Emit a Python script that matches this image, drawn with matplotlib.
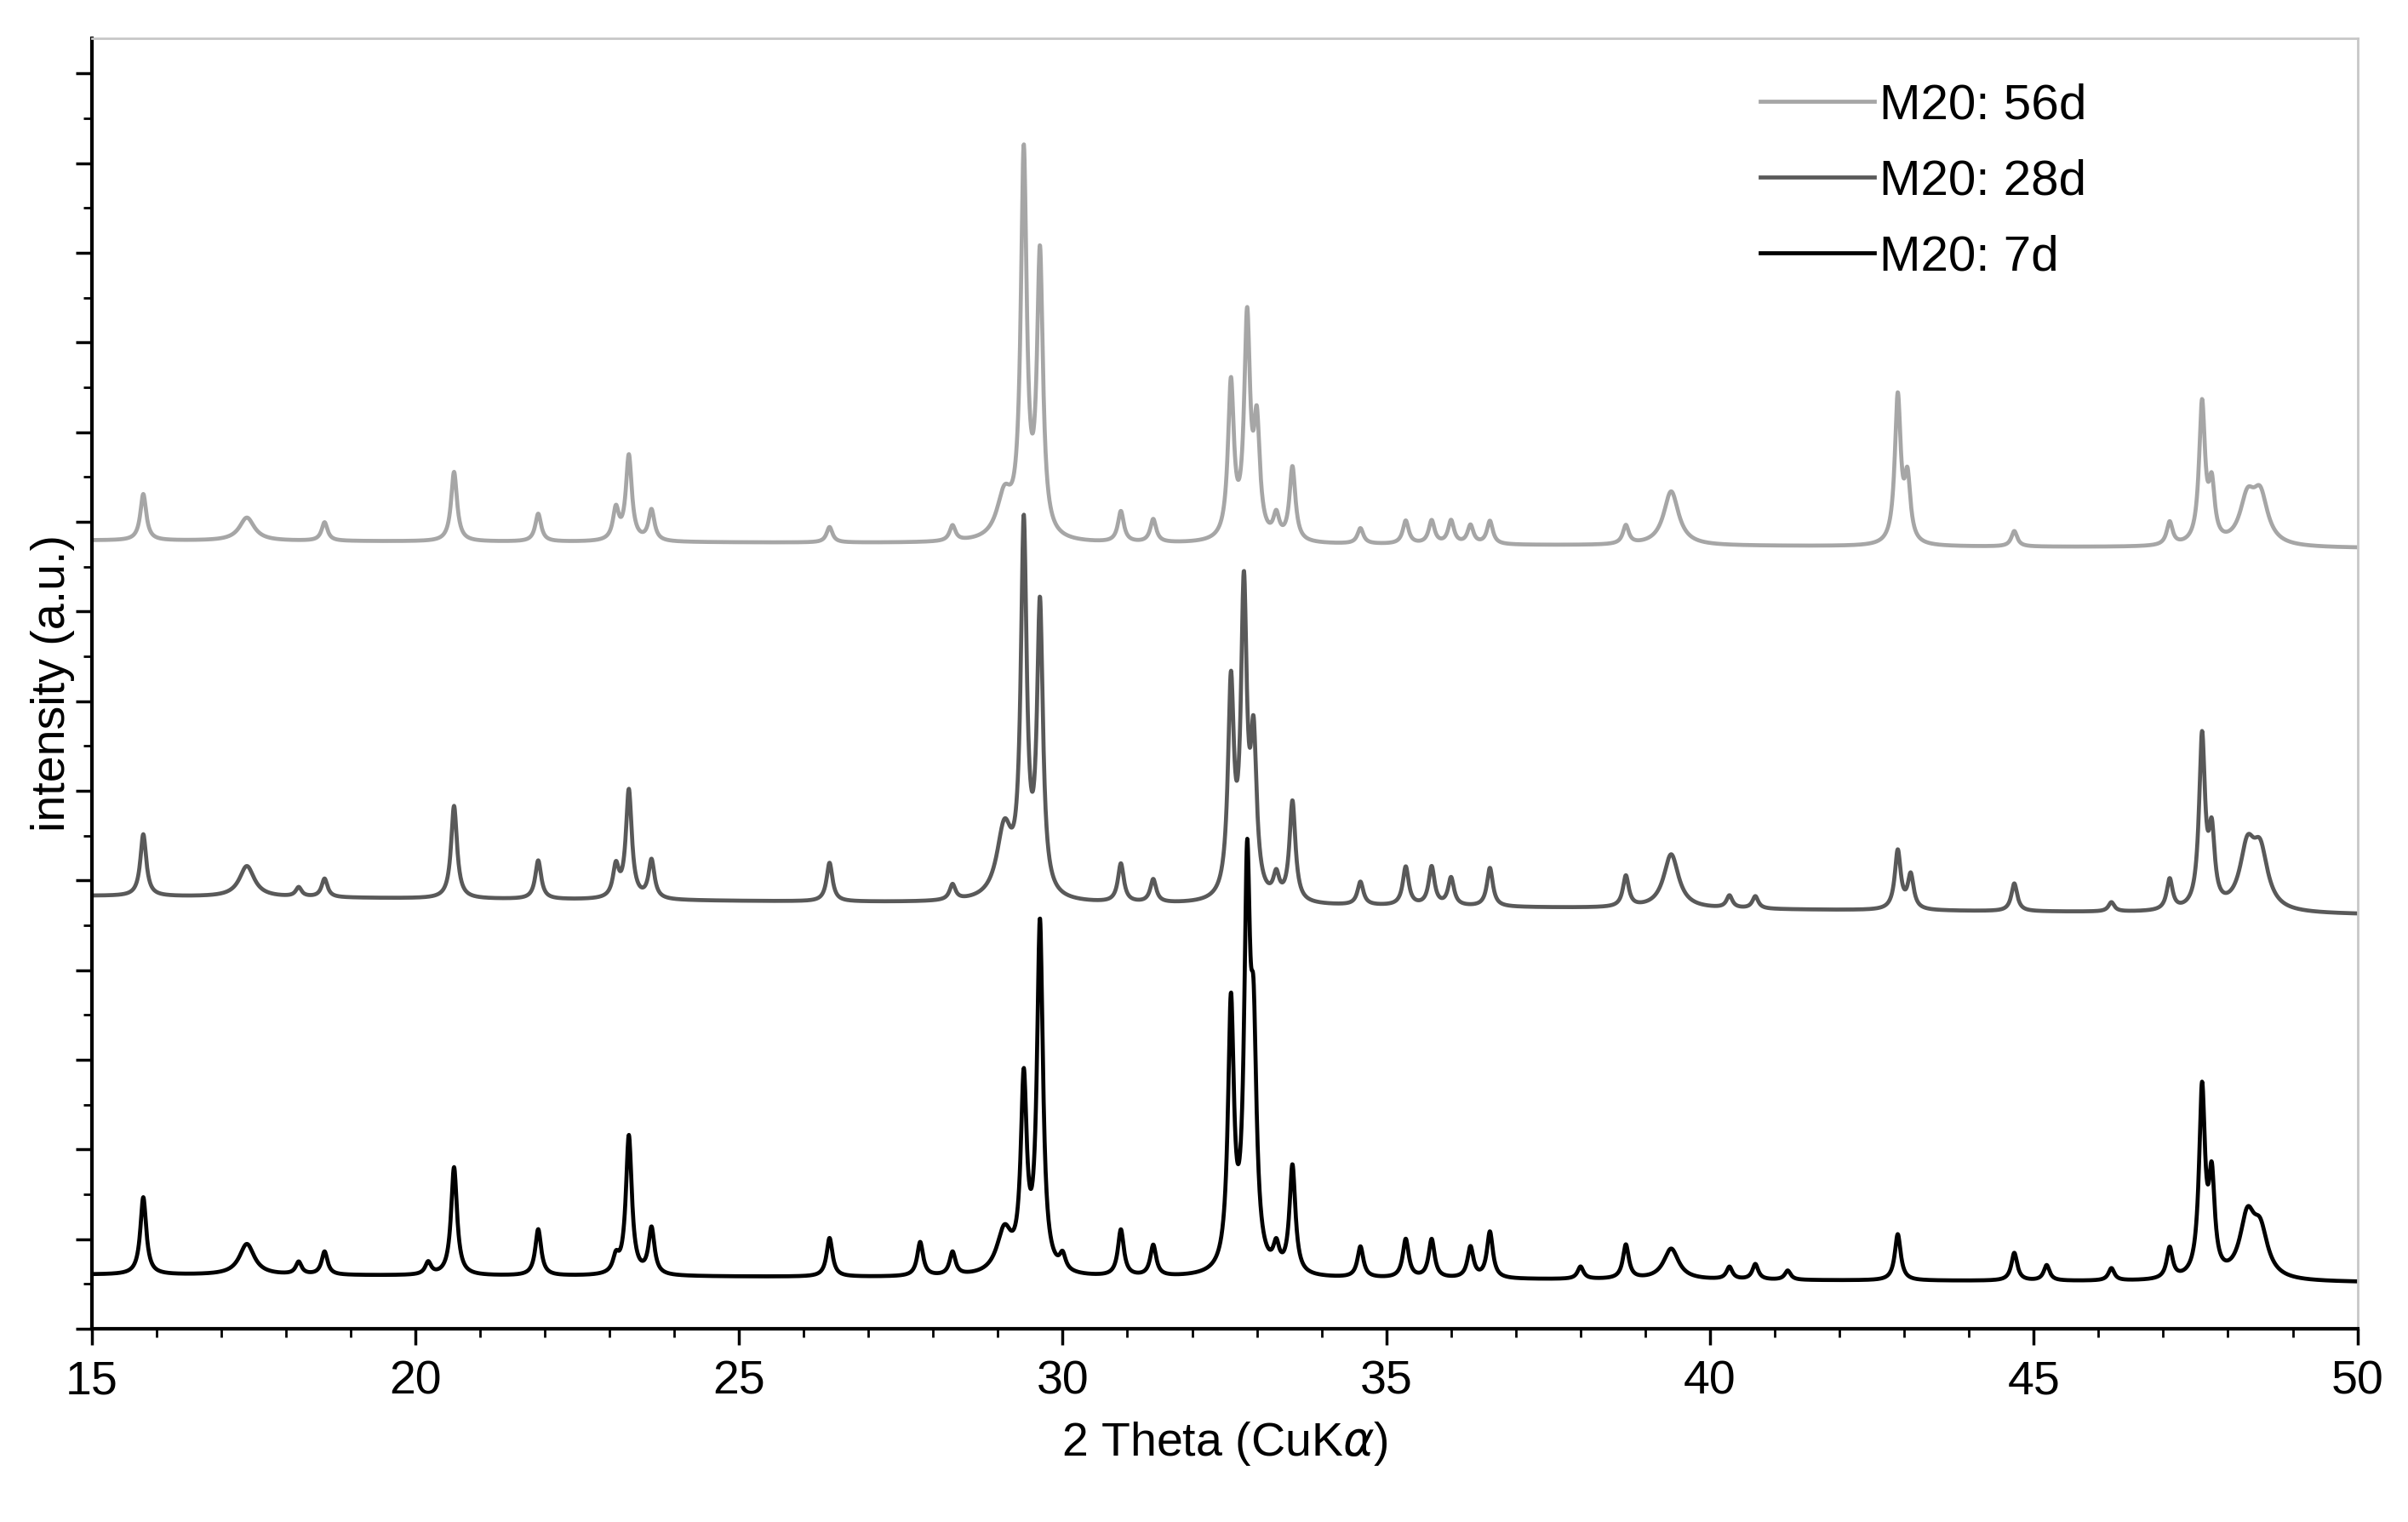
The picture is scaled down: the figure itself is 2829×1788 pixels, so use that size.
import numpy as np
import matplotlib
matplotlib.use('Agg')
import matplotlib.pyplot as plt

plt.rcParams['font.family'] = ['Liberation Sans', 'DejaVu Sans']

# peak lists: position (deg), height (a.u. above baseline)
pos_7d = [15.8, 17.4, 18.2, 18.6, 20.2, 20.6, 21.9, 23.1, 23.3, 23.65, 26.4, 27.8, 28.3, 29.1, 29.4,
          29.65, 30.0, 30.9, 31.4, 32.6, 32.85, 32.95, 33.3, 33.55, 34.6, 35.3, 35.7, 36.3, 36.6, 38.0,
          38.7, 39.4, 40.3, 40.7, 41.2, 42.9, 44.7, 45.2, 46.2, 47.1, 47.6, 47.75, 48.3, 48.5]
hgt_7d = [50, 20, 8, 15, 8, 70, 30, 10, 90, 30, 25, 22, 15, 28, 120,
          225, 10, 30, 20, 170, 245, 130, 15, 70, 20, 25, 25, 20, 30, 8,
          22, 20, 8, 10, 6, 30, 18, 10, 8, 20, 120, 60, 38, 28]

pos_28d = [15.8, 17.4, 18.2, 18.6, 20.6, 21.9, 23.1, 23.3, 23.65, 26.4, 28.3, 29.1, 29.4, 29.65, 30.9,
           31.4, 32.6, 32.8, 32.95, 33.3, 33.55, 34.6, 35.3, 35.7, 36.0, 36.6, 38.7, 39.4, 40.3, 40.7,
           42.9, 43.1, 44.7, 46.2, 47.1, 47.6, 47.75, 48.3, 48.5]
hgt_28d = [40, 20, 6, 12, 60, 25, 20, 70, 25, 25, 10, 45, 235, 185, 25,
           15, 135, 195, 95, 15, 65, 15, 25, 25, 18, 25, 20, 35, 8, 8,
           38, 22, 18, 6, 20, 110, 45, 38, 35]

pos_56d = [15.8, 17.4, 18.6, 20.6, 21.9, 23.1, 23.3, 23.65, 26.4, 28.3, 29.1, 29.4, 29.65, 30.9, 31.4,
           32.6, 32.85, 33.0, 33.3, 33.55, 34.6, 35.3, 35.7, 36.0, 36.3, 36.6, 38.7, 39.4, 42.9, 43.05,
           44.7, 47.1, 47.6, 47.75, 48.3, 48.5]
hgt_56d = [30, 15, 12, 45, 18, 20, 55, 20, 10, 10, 28, 245, 180, 20, 15,
           100, 140, 70, 15, 48, 10, 15, 15, 15, 12, 15, 12, 35, 95, 40,
           10, 15, 90, 35, 28, 30]

broad_peaks = [17.4, 39.4, 29.1, 48.3, 48.5]

# baseline offsets (start, end)
base_7d = (35, 30)
base_28d = (280, 268)
base_56d = (510, 505)

labels = ['M20: 56d', 'M20: 28d', 'M20: 7d']
colors = ['#a6a6a6', '#595959', '#000000']


def pattern(x, pos, hgt, base):
    y = np.linspace(base[0], base[1], x.size)
    for p, h in zip(pos, hgt):
        w = 0.14 if p in broad_peaks else 0.055
        y += h / (1 + ((x - p) / w) ** 2)
    return y


x = np.linspace(15, 50, 7000)

fig, ax = plt.subplots(figsize=(28.29, 17.88), dpi=100)
fig.subplots_adjust(left=0.038, right=0.979, top=0.975, bottom=0.127)

series = [(pos_56d, hgt_56d, base_56d), (pos_28d, hgt_28d, base_28d), (pos_7d, hgt_7d, base_7d)]
for (pos, hgt, base), lab, col in zip(series, labels, colors):
    ax.plot(x, pattern(x, pos, hgt, base), color=col, lw=3.4, label=lab)

ax.set_xlim(15, 50)
ax.set_ylim(0, 835)
ax.set_xticks(range(15, 51, 5))
ax.set_xticks(range(15, 51), minor=True)
ax.set_yticks(np.arange(0, 836, 58))
ax.set_yticks(np.arange(0, 836, 29), minor=True)
ax.set_yticklabels([])
ax.tick_params(axis='both', which='major', length=14, width=2.5, labelsize=40, direction='out', pad=12)
ax.tick_params(axis='both', which='minor', length=7, width=2, direction='out')
for s in ['top', 'right']:
    ax.spines[s].set_color('#c8c8c8')
    ax.spines[s].set_linewidth(2)
for s in ['left', 'bottom']:
    ax.spines[s].set_linewidth(3)

ax.set_xlabel(r'2 Theta (CuK$\alpha$)', fontsize=40, labelpad=14)
ax.set_ylabel('intensity (a.u.)', fontsize=40, labelpad=-12)
ax.legend(loc='upper right', frameon=False, fontsize=42, handlelength=2.3,
          handletextpad=0.1, labelspacing=0.6, bbox_to_anchor=(0.9, 1.0))

fig.savefig('out.png')
